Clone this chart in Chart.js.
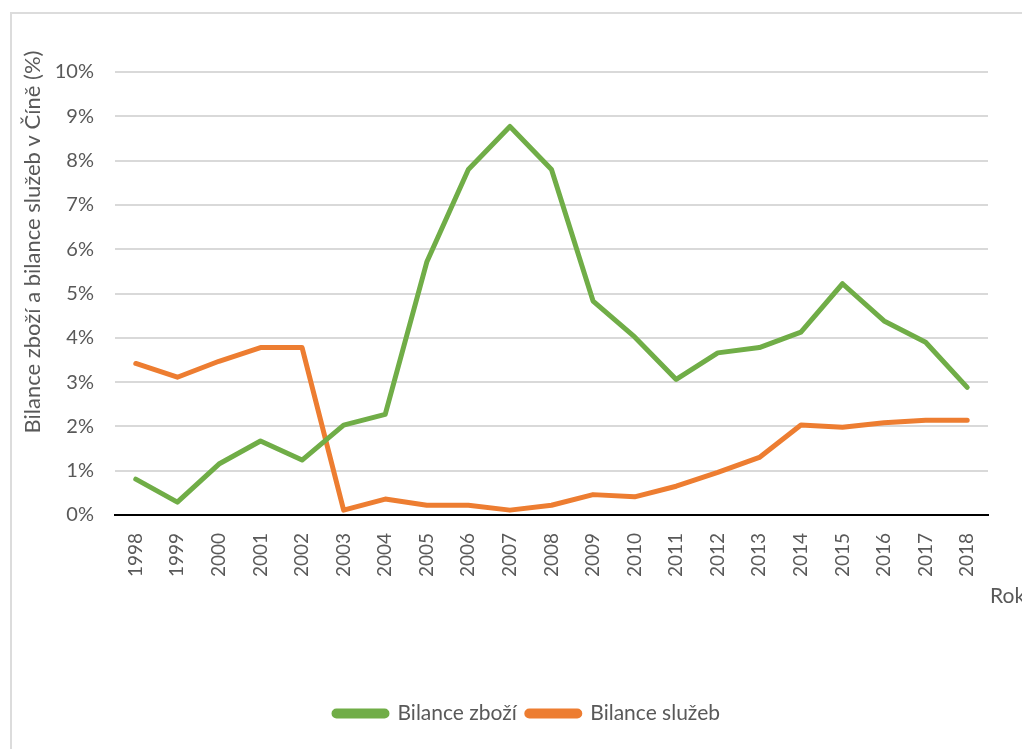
<!DOCTYPE html>
<html>
<head>
<meta charset="utf-8">
<title>Bilance zboží a bilance služeb v Číně</title>
<script src="https://cdn.jsdelivr.net/npm/chart.js"></script>
<style>
  html, body { margin: 0; padding: 0; background: #fff; }
  #frame {
    position: absolute; left: 10px; top: 12px; width: 1012px; height: 737px;
    border-top: 2px solid #dcdcdc; border-left: 2px solid #dcdcdc;
  }
  #chart { position: absolute; left: 0; top: 0; }
</style>
</head>
<body>
<div id="frame"></div>
<canvas id="chart" width="1022" height="749"></canvas>
<script>
const years = ['1998', '1999', '2000', '2001', '2002', '2003', '2004', '2005', '2006', '2007',
  '2008', '2009', '2010', '2011', '2012', '2013', '2014', '2015', '2016', '2017', '2018'];
const bilanceZbozi = [0.81, 0.29, 1.15, 1.67, 1.24, 2.03, 2.27, 5.71, 7.8, 8.77,
  7.8, 4.83, 4.02, 3.06, 3.66, 3.78, 4.13, 5.22, 4.38, 3.9, 2.88];
const bilanceSluzeb = [3.42, 3.11, 3.47, 3.78, 3.78, 0.11, 0.36, 0.22, 0.22, 0.11,
  0.22, 0.46, 0.41, 0.65, 0.96, 1.3, 2.03, 1.98, 2.08, 2.14, 2.14];
const yTicks = [0, 1, 2, 3, 4, 5, 6, 7, 8, 9, 10];

const gray = '#595959';
const font = 'Lato, "Open Sans", sans-serif';

// axis titles sit outside the plot, so draw them by hand
const axisTitles = {
  id: 'axisTitles',
  afterDraw(chart) {
    const ctx = chart.ctx;
    ctx.save();
    ctx.fillStyle = gray;
    ctx.font = '21px ' + font;
    ctx.textAlign = 'left';
    ctx.textBaseline = 'middle';
    ctx.fillText('Rok', 990, 596);
    ctx.font = '22px ' + font;
    ctx.translate(33, 242);
    ctx.rotate(-Math.PI / 2);
    ctx.textAlign = 'center';
    ctx.fillText('Bilance zboží a bilance služeb v Číně (%)', 0, 0);
    ctx.restore();
  }
};

new Chart(document.getElementById('chart'), {
  type: 'line',
  data: {
    labels: years,
    datasets: [{
      label: 'Bilance zboží',
      data: bilanceZbozi,
      borderColor: '#70AD47',
      backgroundColor: '#70AD47',
      borderWidth: 5,
      pointRadius: 0,
      tension: 0,
      borderJoinStyle: 'round',
      borderCapStyle: 'round'
    }, {
      label: 'Bilance služeb',
      data: bilanceSluzeb,
      borderColor: '#ED7D31',
      backgroundColor: '#ED7D31',
      borderWidth: 5,
      pointRadius: 0,
      tension: 0,
      borderJoinStyle: 'round',
      borderCapStyle: 'round'
    }]
  },
  options: {
    responsive: false,
    animation: false,
    layout: { padding: { left: 32, right: 0, top: 72, bottom: 15 } },
    scales: {
      x: {
        offset: true,
        grid: { display: false },
        border: { color: '#000', width: 2 },
        ticks: {
          color: gray,
          font: { family: font, size: 19 },
          minRotation: 90,
          maxRotation: 90,
          padding: 10
        },
        afterFit(scale) { scale.height = 178; }
      },
      y: {
        min: 0,
        max: 10,
        afterBuildTicks(scale) { scale.ticks = yTicks.map(v => ({ value: v })); },
        grid: { color: '#d9d9d9', lineWidth: 2, drawTicks: false },
        border: { display: false },
        ticks: {
          color: gray,
          font: { family: font, size: 20 },
          padding: 21,
          callback: v => v + '%'
        },
        afterFit(scale) { scale.width = 83; }
      },
      spacer: {
        position: 'right',
        display: true,
        grid: { display: false },
        border: { display: false },
        ticks: { display: false },
        afterFit(scale) { scale.width = 34; }
      }
    },
    plugins: {
      legend: {
        position: 'bottom',
        labels: {
          color: gray,
          font: { family: font, size: 21 },
          boxWidth: 53,
          boxHeight: 5,
          useBorderRadius: true,
          borderRadius: 2.5,
          padding: 10
        }
      },
      tooltip: { enabled: false }
    }
  },
  plugins: [axisTitles]
});
</script>
</body>
</html>
